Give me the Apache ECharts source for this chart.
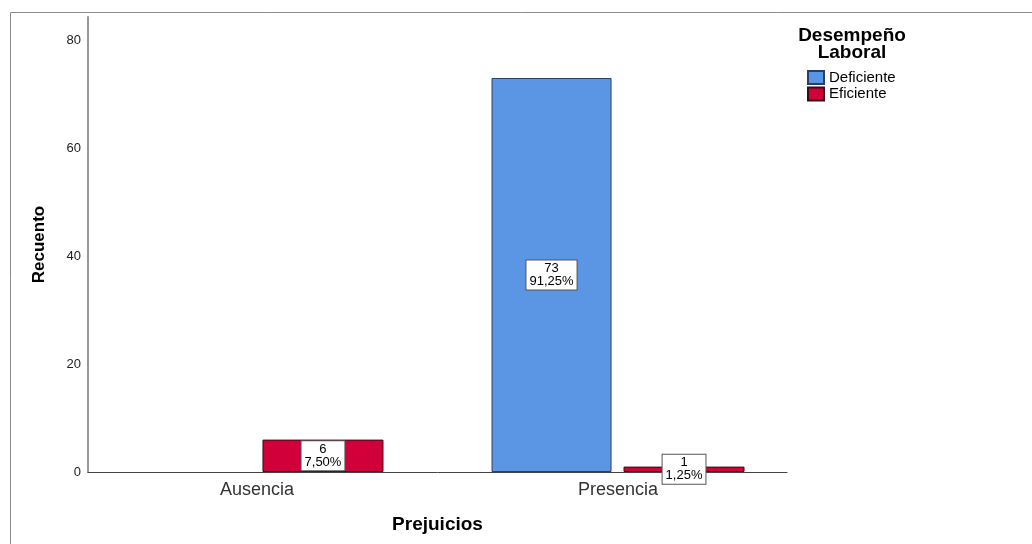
<!DOCTYPE html>
<html>
<head>
<meta charset="utf-8">
<script src="https://cdn.jsdelivr.net/npm/echarts@6/dist/echarts.min.js"></script>
<style>
  html, body { margin: 0; padding: 0; background: #fff; }
  #chart { width: 1032px; height: 544px; }
</style>
</head>
<body>
<div id="chart"></div>
<script>
// Recuento de Desempeño Laboral por Prejuicios
const categories = ['Ausencia', 'Presencia'];
const seriesNames = ['Deficiente', 'Eficiente'];
const deficiente = [0, 73];
const eficiente = [6, 1];
const yTicks = [0, 20, 40, 60, 80];
const total = deficiente.concat(eficiente).reduce((a, b) => a + b, 0);

const FONT = '"Liberation Sans", Arial, sans-serif';
const colors = ['#5A96E3', '#D2003A'];

function pctText(v) {
  return (v / total * 100).toFixed(2).replace('.', ',') + '%';
}

// zero counts get no visible bar and no label
function buildData(values) {
  return values.map((v, i) => ({
    value: [i, v],
    label: { show: v > 0 },
    itemStyle: v > 0 ? {} : { opacity: 0 }
  }));
}

const labelStyle = {
  show: true,
  position: 'inside',
  formatter: p => p.value[1] + '\n' + pctText(p.value[1]),
  fontFamily: FONT,
  fontSize: 13,
  lineHeight: 13,
  color: '#000',
  backgroundColor: '#fff',
  borderColor: '#555',
  borderWidth: 1,
  padding: [2, 3, 1, 3],
  align: 'center'
};

const chart = echarts.init(document.getElementById('chart'), null, { renderer: 'canvas' });

chart.setOption({
  animation: false,
  backgroundColor: '#fff',
  textStyle: { fontFamily: FONT },
  graphic: [{
    type: 'rect',
    shape: { x: 10.5, y: 12.5, width: 1100, height: 600 },
    style: { fill: 'none', stroke: '#8a8a8a', lineWidth: 1 },
    silent: true
  }],
  title: {
    text: 'Desempeño\nLaboral',
    left: 847, top: 22,
    textAlign: 'center',
    textStyle: { fontFamily: FONT, fontSize: 19, fontWeight: 'bold', color: '#000', lineHeight: 17 }
  },
  legend: {
    data: seriesNames,
    orient: 'vertical',
    left: 802, top: 65,
    icon: 'rect',
    itemWidth: 16, itemHeight: 13,
    itemGap: 1.5,
    textStyle: { fontFamily: FONT, fontSize: 15, color: '#000', lineHeight: 15 }
  },
  grid: { left: 88, right: 245, top: 17, bottom: 72, containLabel: false },
  xAxis: {
    type: 'value',
    min: -0.468, max: 1.468,
    name: 'Prejuicios',
    nameLocation: 'middle',
    nameGap: 43,
    nameTextStyle: { fontFamily: FONT, fontSize: 19, fontWeight: 'bold', color: '#000' },
    axisLine: { show: true, onZero: false, lineStyle: { color: '#444', width: 1 } },
    axisTick: { show: false },
    splitLine: { show: false },
    axisLabel: {
      customValues: categories.map((c, i) => i),
      formatter: v => categories[Math.round(v)] || '',
      fontFamily: FONT, fontSize: 18, color: '#333', margin: 9
    }
  },
  yAxis: {
    type: 'value',
    min: 0, max: 84.3,
    name: 'Recuento',
    nameLocation: 'middle',
    nameGap: 40,
    nameTextStyle: { fontFamily: FONT, fontSize: 17, fontWeight: 'bold', color: '#000' },
    axisLine: { show: true, onZero: false, lineStyle: { color: '#999', width: 2 } },
    axisTick: { show: false },
    splitLine: { show: false },
    axisLabel: {
      customValues: yTicks,
      fontFamily: FONT, fontSize: 13, color: '#222', margin: 7,
      padding: [4, 0, 0, 0]
    }
  },
  series: [
    {
      name: seriesNames[0],
      type: 'bar',
      barWidth: 120,
      barGap: '10%',
      itemStyle: { color: colors[0], borderColor: '#2a3f66', borderWidth: 1 },
      label: labelStyle,
      data: buildData(deficiente)
    },
    {
      name: seriesNames[1],
      type: 'bar',
      barWidth: 121,
      barGap: '10%',
      itemStyle: { color: colors[1], borderColor: '#3a0a14', borderWidth: 1 },
      label: labelStyle,
      data: buildData(eficiente)
    }
  ]
});
</script>
</body>
</html>
